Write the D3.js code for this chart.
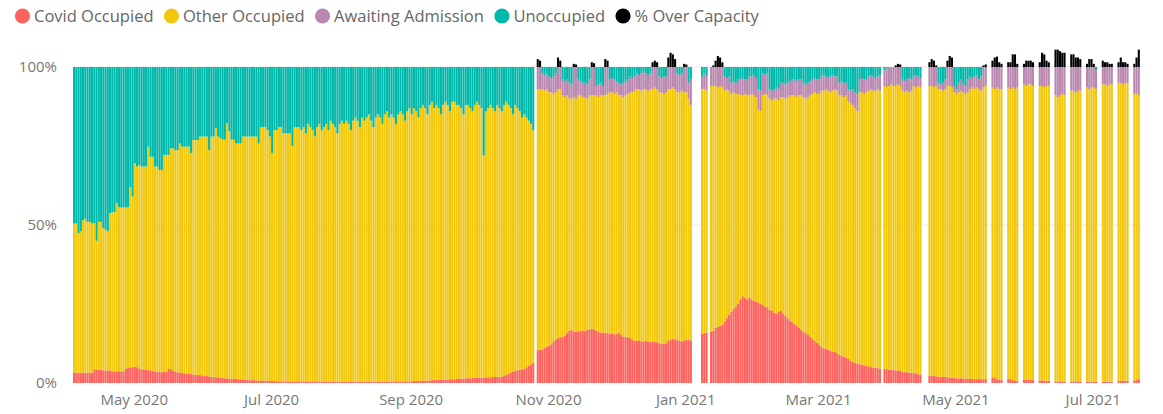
<!DOCTYPE html>
<html>
<head>
<meta charset="utf-8">
<script src="https://cdn.jsdelivr.net/npm/d3@7"></script>
<style>
  html, body { margin: 0; padding: 0; background: #ffffff; }
  svg { display: block; }
  text { font-family: "Open Sans", "Noto Sans", sans-serif; }
</style>
</head>
<body>
<svg id="chart" width="1163" height="414"></svg>
<script>
// Daily bed occupancy as a percentage of capacity, first day 4 Apr 2020.
// null = no report for that day.
const startDay = "2020-04-04";

const seriesNames  = ["Covid Occupied", "Other Occupied", "Awaiting Admission", "Unoccupied", "% Over Capacity"];
const seriesKeys   = ["covid", "other", "awaiting", "unoccupied", "over"];
const seriesColors = ["#FD625E", "#F2C80F", "#B987AF", "#01B8AA", "#000000"];
const yTickValues  = [0, 50, 100];

const covid = [
  3.3,3.3,3.3,3.3,3.3,3.3,3.3,3.3,3.3,4.4,
  4.3,4.2,4.2,4.0,4.0,4.0,4.0,3.7,3.7,3.7,
  3.7,3.7,3.7,4.6,4.8,5.0,5.0,5.2,5.0,4.6,
  4.4,4.3,4.2,4.1,4.0,3.9,3.6,3.5,3.5,3.4,
  3.5,3.6,4.6,4.4,3.8,3.5,3.4,3.3,3.2,3.1,
  3.0,2.9,2.8,2.7,2.6,2.5,2.5,2.4,2.3,2.2,
  2.1,2.0,1.9,1.8,1.8,1.7,1.6,1.5,1.5,1.4,
  1.4,1.3,1.3,1.2,1.2,1.1,1.0,1.0,0.9,0.9,
  0.9,0.8,0.8,0.8,0.7,0.7,0.7,0.6,0.6,0.6,
  0.6,0.5,0.5,0.5,0.5,0.5,0.5,0.5,0.5,0.5,
  0.5,0.5,0.5,0.5,0.5,0.5,0.5,0.5,0.5,0.5,
  0.5,0.4,0.4,0.4,0.4,0.4,0.4,0.4,0.4,0.4,
  0.4,0.4,0.4,0.4,0.4,0.4,0.4,0.4,0.4,0.4,
  0.4,0.4,0.4,0.4,0.4,0.4,0.4,0.4,0.4,0.4,
  0.4,0.5,0.5,0.5,0.5,0.5,0.5,0.5,0.5,0.5,
  0.5,0.6,0.6,0.7,0.7,0.7,0.8,0.8,0.8,0.9,
  0.9,1.0,1.0,1.0,1.1,1.1,1.1,1.2,1.2,1.2,
  1.3,1.3,1.4,1.4,1.5,1.5,1.5,1.6,1.6,1.6,
  1.7,1.7,1.7,1.8,1.8,1.8,1.9,1.9,1.9,2.0,
  2.0,2.2,2.6,3.0,3.4,3.6,3.8,4.0,4.1,4.3,
  4.6,5.0,5.4,5.9,6.3,null,10.4,10.5,10.6,11.2,
  11.5,11.8,12.3,13.2,13.8,14.2,14.5,14.7,15.0,15.8,
  16.5,16.8,16.2,16.3,16.4,16.5,16.6,16.4,16.8,17.0,
  17.2,17.0,16.6,16.2,16.0,15.9,15.8,15.9,15.6,15.5,
  15.4,15.6,16.0,15.2,14.7,14.6,14.5,14.2,13.6,13.4,
  13.3,13.5,13.2,13.1,13.3,13.0,12.9,13.2,13.1,12.9,
  12.6,12.5,12.4,12.6,13.5,13.8,14.0,13.8,13.6,13.3,
  13.2,13.5,13.7,13.6,13.5,null,null,null,null,15.6,
  15.8,16.0,null,16.2,16.5,17.5,17.8,18.0,18.5,19.5,
  20.5,21.5,22.5,23.5,24.2,25.0,26.5,27.5,27.0,26.3,
  26.9,26.5,26.0,25.7,25.5,25.0,24.7,24.1,24.0,23.2,
  22.8,22.2,22.0,22.6,22.8,22.0,21.2,20.5,19.8,19.2,
  18.8,18.2,17.5,16.8,16.2,15.8,15.2,14.6,14.0,13.4,
  12.8,12.2,11.4,11.0,10.8,10.5,10.3,10.0,9.8,9.4,
  9.0,8.6,8.4,8.0,7.6,7.1,6.8,6.4,6.2,6.0,
  5.8,5.6,5.5,5.3,5.0,4.9,4.8,4.7,4.6,null,
  4.5,4.4,4.2,4.1,4.1,4.0,3.9,3.8,3.6,3.5,
  3.4,3.3,3.3,3.2,3.0,2.8,2.7,null,null,null,
  2.3,2.2,2.2,2.1,2.1,2.0,1.9,1.9,1.8,1.7,
  1.6,1.6,1.5,1.5,1.5,1.4,1.4,1.3,1.3,1.3,
  1.3,1.2,1.3,1.2,1.2,1.2,null,null,1.8,1.7,
  1.2,1.1,1.1,null,null,1.3,1.2,1.0,0.7,0.6,
  null,null,1.1,1.1,1.0,1.0,0.9,null,null,0.8,
  0.8,0.8,0.7,0.7,null,null,0.5,0.5,0.5,0.5,
  0.5,null,null,0.5,0.5,0.5,0.5,0.5,null,null,
  0.4,0.4,0.4,0.4,0.4,null,null,0.4,0.4,0.4,
  0.4,0.4,null,null,0.7,0.7,0.7,0.7,0.7,null,
  null,0.8,1.0,1.2
];

const other = [
  47.2,47.2,44.1,44.7,48.2,48.7,47.7,47.7,47.2,46.1,
  40.7,46.8,46.8,45.0,44.5,44.0,49.8,50.3,50.3,53.3,
  51.9,51.8,51.9,50.9,50.8,57.0,54.0,64.4,63.5,64.4,
  64.1,64.2,64.3,70.7,67.6,67.7,64.9,65.0,63.9,64.0,
  68.7,68.6,67.6,69.9,70.5,70.2,70.3,72.5,71.6,71.7,
  71.8,71.9,70.0,74.2,74.3,74.4,75.5,75.6,75.7,75.8,
  71.6,76.0,76.1,78.9,76.2,75.8,75.4,75.5,80.7,78.2,
  75.6,75.7,74.5,74.6,74.6,76.9,77.0,77.0,77.1,77.1,
  77.1,77.2,75.0,80.2,80.3,80.3,79.3,77.4,72.2,79.4,
  79.4,80.5,80.5,78.5,78.5,78.5,78.5,74.5,80.5,80.5,
  80.5,79.5,80.5,78.5,81.5,80.5,79.5,77.5,80.5,81.5,
  79.5,80.6,81.6,79.6,82.6,81.6,80.6,78.6,81.6,82.6,
  81.6,82.6,81.6,79.6,82.6,83.6,82.6,80.6,83.6,82.6,
  83.6,84.6,82.6,80.6,83.6,84.6,83.6,81.6,84.6,85.6,
  83.6,84.5,83.5,81.5,84.5,85.5,84.5,82.5,85.5,86.5,
  84.5,86.4,85.4,83.3,86.3,87.3,86.2,84.2,87.2,88.1,
  86.1,87.0,86.0,84.0,86.9,87.9,86.9,84.8,87.8,87.8,
  86.7,86.7,85.6,83.6,86.5,86.5,85.5,84.4,86.4,87.4,
  86.3,85.3,70.3,84.2,85.2,86.2,85.1,84.1,86.1,85.0,
  84.0,85.8,86.4,85.0,83.6,81.4,84.2,83.0,81.9,79.7,
  80.4,79.0,77.6,76.1,73.7,null,82.6,82.5,82.4,81.3,
  81.5,80.2,79.7,78.3,78.2,78.8,78.5,76.3,75.5,75.2,
  73.5,73.2,74.3,73.7,74.6,74.5,73.9,74.1,73.2,74.0,
  73.8,74.0,74.4,74.3,75.0,75.1,75.2,75.6,76.4,76.5,
  76.1,76.4,75.0,75.8,75.8,76.4,77.0,77.8,78.4,79.1,
  79.7,79.5,79.3,79.9,79.7,79.5,80.1,79.8,80.4,80.1,
  79.4,79.5,79.1,79.4,79.5,79.2,79.5,79.2,78.4,78.7,
  79.3,78.5,78.3,76.4,74.5,null,null,null,null,77.4,
  77.2,76.5,null,77.8,77.5,76.5,75.7,76.0,75.0,73.0,
  72.5,71.0,69.0,68.5,67.3,66.5,64.5,63.5,64.5,64.7,
  64.1,65.0,65.0,64.8,61.0,61.0,66.3,67.4,67.0,66.8,
  66.7,67.8,68.0,66.9,67.7,68.5,68.8,70.0,71.2,71.8,
  72.2,72.3,73.5,74.2,74.3,74.2,75.3,76.4,77.5,78.6,
  78.7,79.3,81.1,81.5,82.2,82.0,81.7,82.5,83.2,83.1,
  82.0,82.4,82.1,83.0,81.4,81.4,81.2,80.6,79.8,86.0,
  86.2,85.9,86.5,87.2,88.0,87.6,87.7,88.3,87.9,null,
  89.5,89.1,89.8,90.4,89.9,90.0,90.6,90.2,88.9,88.5,
  89.1,88.7,89.2,90.8,90.5,91.2,90.8,null,null,null,
  91.7,91.8,91.3,91.9,90.9,91.0,90.6,91.1,92.2,92.3,
  91.9,90.4,90.0,90.5,91.0,90.6,90.1,90.7,91.7,92.2,
  91.7,92.3,91.7,91.3,92.3,92.8,null,null,91.7,91.3,
  92.3,91.9,91.9,null,null,92.2,91.8,92.5,92.3,92.9,
  null,null,93.4,92.9,93.5,93.5,93.1,null,null,93.2,
  93.2,92.7,93.3,93.3,null,null,90.5,90.0,90.5,91.0,
  90.5,null,null,92.0,92.0,91.5,92.0,92.0,null,null,
  93.1,92.6,93.1,93.1,92.6,null,null,94.1,94.1,93.6,
  94.1,94.1,null,null,94.3,94.3,93.8,94.3,94.3,null,
  null,90.7,90.5,89.8
];

const awaiting = [
  0,0,0,0,0,0,0,0,0,0,
  0,0,0,0,0,0,0,0,0,0,
  0,0,0,0,0,0,0,0,0,0,
  0,0,0,0,0,0,0,0,0,0,
  0,0,0,0,0,0,0,0,0,0,
  0,0,0,0,0,0,0,0,0,0,
  0,0,0,0,0,0,0,0,0,0,
  0,0,0,0,0,0,0,0,0,0,
  0,0,0,0,0,0,0,0,0,0,
  0,0,0,0,0,0,0,0,0,0,
  0,0,0,0,0,0,0,0,0,0,
  0,0,0,0,0,0,0,0,0,0,
  0,0,0,0,0,0,0,0,0,0,
  0,0,0,0,0,0,0,0,0,0,
  0,0,0,0,0,0,0,0,0,0,
  0,0,0,0,0,0,0,0,0,0,
  0,0,0,0,0,0,0,0,0,0,
  0,0,0,0,0,0,0,0,0,0,
  0,0,0,0,0,0,0,0,0,0,
  0,0,0,0,0,0,0,0,0,0,
  0,0,0,0,0,null,7,7,5,5,
  5,5,4.5,5.5,6,7,7,5,5,5,
  5,4.5,9.5,10,5,4.5,4.5,4.5,4.5,5,
  9,9,3,4,4,3,9,8.5,4,4.5,
  4.5,3.5,4,3.5,4.5,4.5,4.5,5,4.5,4.5,
  5,4.5,5.5,5.5,5,5,5,7,6.5,7,
  5,4.5,5.5,5,7,7,6.5,7,6,5.5,
  5.5,8,8,5,8,null,null,null,null,4,
  5,4.5,null,6,6,6,6.5,6,6.5,4.5,
  3.5,4.5,3.5,3.5,3.5,4.5,5,5.5,4.5,5,
  6,5.5,6.5,6,6.5,6.5,7,6,7,3,
  3,3,3.5,3.5,4.5,4.5,4.5,4.5,4.5,5,
  5,5,5,5,4.5,4.5,4.5,4.5,4.5,4.5,
  4.5,4.5,4.5,5,4,4,5,5,4,4.5,
  4,4.5,4.5,4,4,4,5,5,5.5,4,
  4.5,4.5,4,4.5,4.5,4.5,4,4,5,null,
  5,6,6,5.5,6,6,5.5,6,3.5,3.5,
  3.5,4.5,3.5,3,4,3,3,null,null,null,
  6,6,6.5,6,2,1.5,2.5,3,6,6,
  6.5,2,1.5,3,3.5,2.5,2.5,4,4,3,
  4,4,3,4.5,6.5,6,null,null,6.5,7,
  6.5,7,7,null,null,6.5,7,6.5,7,6.5,
  null,null,5.5,6,5.5,5.5,6,null,null,6,
  6,6.5,6,6,null,null,9,9.5,9,8.5,
  9,null,null,7.5,7.5,8,7.5,7.5,null,null,
  6.5,7,6.5,6.5,6,null,null,5.5,5.5,6,
  5.5,5.5,null,null,5,5,5.5,5,5,null,
  null,8.5,8.5,9
];

const unoccupied = [
  49.5,49.5,52.6,52,48.5,48,49,49,49.5,49.5,
  55,49,49,51,51.5,52,46.2,46,46,43,
  44.4,44.5,44.4,44.5,44.4,38,41,30.4,31.5,31,
  31.5,31.5,31.5,25.2,28.4,28.4,31.5,31.5,32.6,32.6,
  27.8,27.8,27.8,25.7,25.7,26.3,26.3,24.2,25.2,25.2,
  25.2,25.2,27.2,23.1,23.1,23.1,22,22,22,22,
  26.3,22,22,19.3,22,22.5,23,23,17.8,20.4,
  23,23,24.2,24.2,24.2,22,22,22,22,22,
  22,22,24.2,19,19,19,20,22,27.2,20,
  20,19,19,21,21,21,21,25,19,19,
  19,20,19,21,18,19,20,22,19,18,
  20,19,18,20,17,18,19,21,18,17,
  18,17,18,20,17,16,17,19,16,17,
  16,15,17,19,16,15,16,18,15,14,
  16,15,16,18,15,14,15,17,14,13,
  15,13,14,16,13,12,13,15,12,11,
  13,12,13,15,12,11,12,14,11,11,
  12,12,13,15,12,12,13,14,12,11,
  12,13,28,14,13,12,13,14,12,13,
  14,12,11,12,13,15,12,13,14,16,
  15,16,17,18,20,null,0,0,2,2.5,
  2,3,3.5,3,2,0,0,4,4.5,4,
  5,5.5,0,0,4,4.5,5,5,5.5,4,
  0,0,6,5.5,5,6,0,0,4,3.5,
  4,4.5,5,5.5,5,4.5,4,3,3.5,3,
  2,2.5,2,1.5,2,2.5,2,0,0,0,
  3,3.5,3,3,0,0,0,0,2,2.5,
  2,0,0,5,4,null,null,null,null,3,
  2,3,null,0,0,0,0,0,0,3,
  3.5,3,5,4.5,5,4,4,3.5,4,4,
  3,3,2.5,3.5,7,7.5,2,2.5,2,7,
  7.5,7,6.5,7,5,5,5.5,5,4.5,4,
  4,4.5,4,4,5,5.5,5,4.5,4,3.5,
  4,4,3,2.5,3,3.5,3,2.5,3,3,
  5,4.5,5,5,7,7.5,7,8,8.5,4,
  3.5,4,4,3,2.5,3,3.5,3,2.5,null,
  1,0.5,0,0,0,0,0,0,4,4.5,
  4,3.5,4,3,2.5,3,3.5,null,null,null,
  0,0,0,0,5,5.5,5,4,0,0,
  0,6,7,5,4,5.5,6,4,3,3.5,
  3,2.5,4,3,0,0,null,null,0,0,
  0,0,0,null,null,0,0,0,0,0,
  null,null,0,0,0,0,0,null,null,0,
  0,0,0,0,null,null,0,0,0,0,
  0,null,null,0,0,0,0,0,null,null,
  0,0,0,0,1,null,null,0,0,0,
  0,0,null,null,0,0,0,0,0,null,
  null,0,0,0
];

const over = [
  0,0,0,0,0,0,0,0,0,0,
  0,0,0,0,0,0,0,0,0,0,
  0,0,0,0,0,0,0,0,0,0,
  0,0,0,0,0,0,0,0,0,0,
  0,0,0,0,0,0,0,0,0,0,
  0,0,0,0,0,0,0,0,0,0,
  0,0,0,0,0,0,0,0,0,0,
  0,0,0,0,0,0,0,0,0,0,
  0,0,0,0,0,0,0,0,0,0,
  0,0,0,0,0,0,0,0,0,0,
  0,0,0,0,0,0,0,0,0,0,
  0,0,0,0,0,0,0,0,0,0,
  0,0,0,0,0,0,0,0,0,0,
  0,0,0,0,0,0,0,0,0,0,
  0,0,0,0,0,0,0,0,0,0,
  0,0,0,0,0,0,0,0,0,0,
  0,0,0,0,0,0,0,0,0,0,
  0,0,0,0,0,0,0,0,0,0,
  0,0,0,0,0,0,0,0,0,0,
  0,0,0,0,0,0,0,0,0,0,
  0,0,0,0,0,null,2.5,2,0,0,
  0,0,0,0,0,3,2,0,0,0,
  0,0,1,0.8,0,0,0,0,0,0,
  1.5,1.2,0,0,0,0,2.5,2,0,0,
  0,0,0,0,0,0,0,0,0,0,
  0,0,0,0,0,0,0,1.5,2,1.5,
  0,0,0,0,3,4.5,4,2.5,0,0,
  0,1,0.8,0,0,null,null,null,null,0,
  0,0,null,0,0.5,2,3.5,3,1.5,0,
  0,0,0,0,0,0,0,0,0,0,
  0,0,0,0,0,0,0,0,0,0,
  0,0,0,0,0,0,0,0,0,0,
  0,0,0,0,0,0,0,0,0,0,
  0,0,0,0,0,0,0,0,0,0,
  0,0,0,0,0,0,0,0,0,0,
  0,0,0,0,0,0,0,0,0,null,
  0,0,0,0,0,0.5,1,0.8,0,0,
  0,0,0,0,0,0,0,null,null,null,
  1.5,2.5,2,0.5,0,0,0,0,2,3.5,
  3,0,0,0,0,0,0,0,0,0,
  0,0,0,0,0.5,0.8,null,null,2,3,
  3.3,1.5,1,null,null,1.5,1.5,4,4,1,
  null,null,1,2,2,2,1.5,null,null,1.5,
  4.5,4,2,1.5,null,null,5.5,5.5,5,4.5,
  4.5,null,null,4,4,3,3,2.5,null,null,
  1,2.5,2.5,1,0,null,null,2,1.5,1.5,
  1,1,null,null,1.5,3,1.5,1.5,1,null,
  null,1,3,5.5
];

// ---- layout ----
const plot = { left: 73, right: 1140, top: 67, bottom: 383 };
const svg = d3.select("#chart");

const start = d3.timeParse("%Y-%m-%d")(startDay);
const nDays = covid.length;
const columns = { covid, other, awaiting, unoccupied, over };

const rows = [];
for (let i = 0; i < nDays; i++) {
  if (covid[i] == null) continue;
  const row = { date: d3.timeDay.offset(start, i) };
  seriesKeys.forEach(k => { row[k] = columns[k][i]; });
  rows.push(row);
}

const x = d3.scaleTime()
  .domain([start, d3.timeDay.offset(start, nDays)])
  .range([plot.left, plot.right]);

const y = d3.scaleLinear()
  .domain([0, 100])
  .range([plot.bottom, plot.top]);

const color = d3.scaleOrdinal().domain(seriesKeys).range(seriesColors);

// gridlines
svg.append("g")
  .selectAll("line")
  .data(yTickValues.filter(v => v > 0))
  .join("line")
  .attr("x1", plot.left).attr("x2", plot.right)
  .attr("y1", d => y(d)).attr("y2", d => y(d))
  .attr("stroke", "#e8e8e8").attr("stroke-width", 1);

// stacked daily columns
const layers = d3.stack().keys(seriesKeys)(rows);

svg.append("g")
  .selectAll("g")
  .data(layers)
  .join("g")
  .attr("fill", d => color(d.key))
  .selectAll("rect")
  .data(d => d.filter(s => s[1] - s[0] > 0))
  .join("rect")
  .attr("x", d => x(d.data.date))
  .attr("width", d => Math.max(0.5, x(d3.timeDay.offset(d.data.date, 1)) - x(d.data.date) - 0.15))
  .attr("y", d => y(d[1]))
  .attr("height", d => y(d[0]) - y(d[1]));

// y axis
const yAxis = d3.axisLeft(y)
  .tickValues(yTickValues)
  .tickFormat(d => d + "%")
  .tickSize(0)
  .tickPadding(0);

svg.append("g")
  .attr("transform", `translate(${plot.left - 16},0)`)
  .call(yAxis)
  .call(g => g.select(".domain").remove())
  .call(g => g.selectAll("text")
    .attr("fill", "#777777")
    .style("font-size", "15px"));

// x axis
const xAxis = d3.axisBottom(x)
  .ticks(d3.timeMonth.every(2))
  .tickFormat(d3.timeFormat("%b %Y"))
  .tickSize(0)
  .tickPadding(0);

svg.append("g")
  .attr("transform", `translate(0,${plot.bottom + 11})`)
  .call(xAxis)
  .call(g => g.select(".domain").remove())
  .call(g => g.selectAll("text")
    .attr("fill", "#777777")
    .style("font-size", "15px"));

// legend
const legend = svg.append("g").attr("transform", "translate(0,16)");
let cx = 22.5;
seriesNames.forEach((name, i) => {
  legend.append("circle")
    .attr("cx", cx).attr("cy", 0).attr("r", 7.6)
    .attr("fill", seriesColors[i]);
  const t = legend.append("text")
    .attr("x", cx + 11.5).attr("y", 0)
    .attr("dy", "0.35em")
    .attr("fill", "#666666")
    .style("font-size", "16.5px")
    .text(name);
  cx = cx + 11.5 + t.node().getComputedTextLength() + 18;
});
</script>
</body>
</html>
